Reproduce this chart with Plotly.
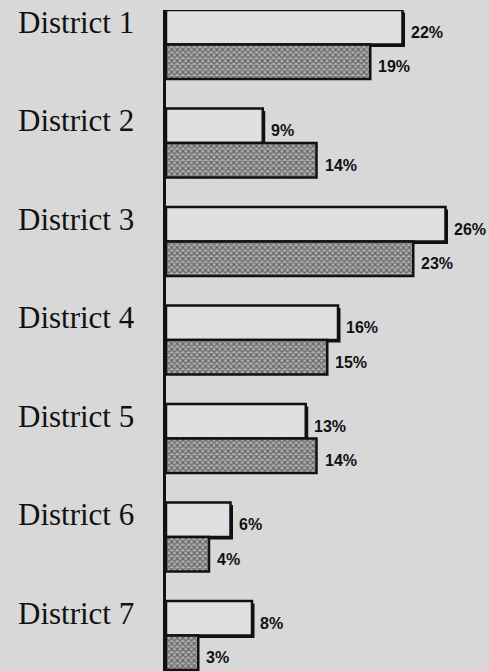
import numpy as np
import plotly.graph_objects as go

districts = ["District 1", "District 2", "District 3", "District 4",
             "District 5", "District 6", "District 7"]
white_values = [22, 9, 26, 16, 13, 6, 8]
gray_values = [19, 14, 23, 15, 14, 4, 3]
white_labels = [f"{v}%" for v in white_values]
gray_labels = [f"{v}%" for v in gray_values]

# layout constants
W, H = 489, 671
ML, MT = 166, 10
plot_w = W - ML
plot_h = H - MT
px_per_unit = 10.75          # horizontal pixels per percent
group_px = 98.5               # vertical pixels per district
bar_w = 0.35                  # bar thickness in category units

idx = np.arange(len(districts))
white_y = idx - bar_w / 2
gray_y = idx + bar_w / 2

x_max = plot_w / px_per_unit
y_top = -(44.5 - MT) / group_px
y_bot = y_top + plot_h / group_px

BG = "#d8d8d8"
shadow_dx = 2.5 / px_per_unit
shadow_dy = 2.5 / group_px

fig = go.Figure()
# drop shadow of the white bars
fig.add_trace(go.Bar(
    orientation="h", x=[v + shadow_dx for v in white_values], y=white_y + shadow_dy,
    width=bar_w, marker=dict(color="#111111", line=dict(width=0)),
    hoverinfo="skip", showlegend=False))
fig.add_trace(go.Bar(
    orientation="h", x=white_values, y=white_y, width=bar_w,
    marker=dict(color="#e0e0e0", line=dict(color="#111111", width=2.5)),
    showlegend=False))
fig.add_trace(go.Bar(
    orientation="h", x=gray_values, y=gray_y, width=bar_w,
    marker=dict(color="#9c9c9c", line=dict(color="#111111", width=2.5),
                pattern=dict(shape="x", size=4, solidity=0.5,
                             fgcolor="#151515", bgcolor="#b0b0b0")),
    showlegend=False))

annotations = []
for i, name in enumerate(districts):
    annotations.append(dict(
        x=-(ML - 16) / plot_w, xref="paper", y=white_y[i], yref="y",
        text=name, showarrow=False, xanchor="left", yanchor="middle", yshift=5,
        font=dict(family="Liberation Serif", size=31, color="#111111")))
for vals, ys, labels in ((white_values, white_y, white_labels),
                         (gray_values, gray_y, gray_labels)):
    for v, yy, lab in zip(vals, ys, labels):
        annotations.append(dict(
            x=v, xref="x", y=yy, yref="y", text=f"<b>{lab}</b>", showarrow=False,
            xanchor="left", yanchor="middle", xshift=6, yshift=-5,
            font=dict(family="Liberation Sans", size=16, color="#111111")))

fig.update_layout(
    width=W, height=H,
    margin=dict(l=ML, r=0, t=MT, b=0, pad=0),
    paper_bgcolor=BG, plot_bgcolor=BG,
    barmode="overlay",
    xaxis=dict(range=[0, x_max], showgrid=False, zeroline=False,
               showticklabels=False, showline=False),
    yaxis=dict(range=[y_bot, y_top], showgrid=False, zeroline=False,
               showticklabels=False, showline=True, linecolor="#111111",
               linewidth=3, ticks=""),
    annotations=annotations,
)

fig.write_html("out.html", config={"displayModeBar": False},
               post_script="document.body.style.margin='0';document.body.style.overflow='hidden';")
